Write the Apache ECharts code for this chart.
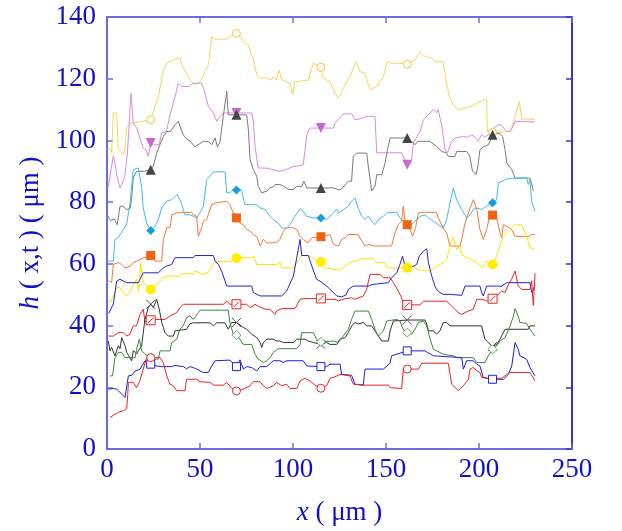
<!DOCTYPE html>
<html><head><meta charset="utf-8">
<script src="https://cdn.jsdelivr.net/npm/echarts@6/dist/echarts.min.js"></script>
<style>html,body{margin:0;padding:0;background:#fff}#c{width:622px;height:531px}</style>
</head><body><div id="c"></div>
<script>
// ---- tick labels / axes ----
const xTicks = [0, 50, 100, 150, 200, 250];
const yTicks = [0, 20, 40, 60, 80, 100, 120, 140];
const markerX = [23.5, 69.6, 115, 161.4, 207.3];

// ---- line profiles h(x,t) : [x, h] ----
const goldLine = [[1.2,97.6],[2.5,96],[3.4,108.9],[5.2,108.9],[6,97],[8.8,95.4],[9.7,97],[10.5,104],[12.4,105.6],[18,106],[23.5,106.7],[25,109.5],[27.6,114.2],[30.3,122.8],[32.1,125],[37.5,126.6],[39.2,126.6],[40.2,124.5],[44.6,119.6],[47.3,118],[50,119],[52.7,122.3],[54.5,124.5],[56.3,133.6],[58.1,132.8],[64.3,132.8],[67,134.2],[69.7,134.7],[71,134.2],[73.3,132],[76,130.9],[78.7,126.1],[80.5,121.3],[82.3,120.2],[86,120.2],[88,119.6],[89.4,120.7],[91,119.6],[92.6,122.8],[93.9,119.6],[96.5,119],[98.4,118.5],[99.8,114.8],[101,119],[108.2,119.6],[110.9,125],[114.9,123.7],[116.3,120.2],[119.9,119],[122.6,115.3],[124.4,113.7],[127,116.9],[130.6,120.7],[133.9,125.5],[136,122.3],[138.7,121.8],[141.4,116.4],[145,117.5],[148.6,120.7],[150.7,125.5],[153,125],[157.5,125],[161.1,124.7],[165.6,126.1],[168.3,128.8],[171,127.2],[174.6,126.6],[176.3,125.5],[180.8,125.5],[182.3,119.6],[184,114.2],[186.2,111.5],[188.9,109.9],[192,110.4],[196,111],[198.8,112.1],[204.1,113.4],[204.5,102.9],[207.3,102.6],[211.3,102.6],[217,103],[219.4,107.8],[221.7,112.6],[222.9,106.9],[230.1,106.9]];
const violetLine = [[0.7,85],[2,90],[3.4,95],[4.5,92],[5.5,88],[7,84.6],[9.5,88],[11,96],[12.9,115.3],[14.1,105.6],[16,104],[17.7,100.8],[19.5,97.5],[21,97],[22.2,94.8],[23.5,99.2],[24.9,98.6],[28,98.6],[29.4,102.4],[32,103],[33.9,108.3],[36.6,114.2],[38.3,118.5],[40.2,117.5],[44,117.5],[46.1,118.5],[50.9,118.5],[52.7,115.3],[54.5,111],[57.2,108.9],[59,106.2],[60.5,107.5],[62.5,108.9],[69.7,108.9],[77.8,108.9],[78.7,106],[79.6,98],[81.3,91.1],[86,91],[93,90],[96,90.5],[100,91.5],[105.5,92.1],[106.5,97],[107.4,101.8],[109.1,104],[114.5,104],[121.7,104],[122.6,105.6],[127,108.6],[131.6,108.6],[133.3,106.7],[136,107],[139.6,107.8],[144.1,107.8],[145,96],[151.3,96],[158.4,96],[161.5,92.1],[163,92.5],[163.8,93.8],[164.7,99.2],[168.3,102.9],[170.1,106.7],[173.7,108.9],[175.5,110],[177,109],[178,110],[179.9,105.1],[181.7,97],[183,96],[185.3,99.7],[187.1,100.8],[191.6,101.3],[194,101],[195,100.5],[196,101.8],[198,101],[199.6,99.7],[201.4,101.8],[203,101],[205.5,102],[207.7,104],[210.4,105.1],[212,105],[214.9,102.9],[217,103],[219.4,106.2],[230.1,106]];
const greyLine = [[0.5,75.5],[2,74],[4,74.5],[5.5,72.7],[6.5,73],[7,78.7],[8.5,78.7],[10.6,77.6],[12.5,78],[13.3,81.9],[14.1,87.8],[15.9,90],[20,90],[23.5,90.5],[24.9,91.6],[26.7,95.9],[28.5,98.6],[30.3,101.3],[32.1,102.9],[34,102.9],[36.6,105.1],[38.3,106.2],[39.2,105.6],[41,101.8],[42.8,100.5],[44.6,99.8],[47.3,97.9],[49,98.6],[51.8,99.7],[54.5,99.7],[56.3,98.6],[58.1,100.8],[59.4,97.9],[60.8,99.7],[62.5,107.8],[64.4,115.9],[65.2,108.3],[69.7,108.3],[75.1,108.3],[76,103.5],[76.9,93.8],[78.7,90.5],[80.5,88.4],[81.3,85.1],[83.2,83],[85.9,83.6],[87.6,84.6],[89.4,85],[90.3,85.7],[93,85.7],[94.8,85.2],[97.5,84.1],[100.2,84.1],[102,85.1],[104.7,85.1],[105.9,86.8],[107.4,84.6],[114.9,84.6],[121.7,84.6],[125.3,83.9],[127,84.9],[129.7,86.8],[131.5,86.8],[132.4,94.8],[134.2,95.9],[139.6,95.9],[140.5,91.6],[142.3,83.6],[144.1,85.1],[145,88.9],[147.8,88.9],[149.5,92.7],[150.8,97],[152.2,100.8],[157.5,100.8],[161.5,100.8],[163.8,99.7],[165.6,98.6],[167,99.7],[169.2,99.7],[173.5,99.7],[177.2,98.1],[179.9,96.4],[182.5,96],[183.5,94.8],[187,94.8],[188,96.4],[193.4,96.4],[195,95],[196.5,90],[198.5,89],[199.5,92],[200.5,97],[202.3,97.9],[205,98.6],[206.8,100.8],[208.6,102.2],[211.3,102.2],[212.7,101.3],[214,97],[214.9,92.7],[217.6,90.5],[219.4,87.8],[227.4,87.8],[228.3,86],[229.2,83.6]];
const skyLine = [[0.7,60.9],[3.4,60.9],[4.3,67.9],[6,68.5],[8.8,71.1],[10.6,73],[12.4,79.8],[14.1,90.5],[16.8,91.1],[17.7,90.5],[18.6,85.1],[19.5,78.1],[21.3,73.2],[23.5,70.8],[25.8,72.2],[27.6,74.5],[29.4,78.1],[32.1,80.3],[34.8,80.8],[36.6,81.9],[37.8,82.4],[39.2,80.8],[40.2,79.2],[41.9,75.9],[44.6,75.9],[46.4,75.4],[48.2,74.9],[50,76.5],[51.8,78.7],[53.6,87.3],[55.4,88.4],[57.2,89.8],[63.4,89.8],[64.4,83],[66.1,83],[67.5,83.9],[69.7,83.9],[72.3,83.9],[73.7,80.3],[74.2,79.2],[80.5,79.2],[82.3,78.1],[85,77.6],[87.6,75.4],[89.4,74.4],[92.1,73.2],[93.9,71.6],[96.6,71.6],[98.4,72.7],[101,75.4],[103.8,77.8],[105.6,77],[107.4,75.4],[110.9,74.9],[114.9,74.9],[118.1,74.4],[121.7,76.5],[123.5,77.8],[124.4,76.5],[127,77.5],[129.7,78.7],[131.5,80.3],[133.3,81.4],[135.1,78],[136.9,75.4],[138.7,74.4],[140.5,75.4],[142.3,73.8],[144.1,72.7],[145.9,74.4],[148.6,75.4],[150.4,76.5],[155.8,76.7],[157.5,74.9],[161.5,72.7],[163.8,72.7],[166.5,74.4],[168.3,75.4],[171,75.9],[172.8,74.9],[175.5,73.8],[178.1,72.7],[180.8,71.6],[182.6,74.4],[184.8,80.8],[186.2,84.6],[188,80.8],[190.7,77.6],[193.4,74.9],[195.2,75.9],[196.9,77.6],[198.8,78.1],[201.4,77.6],[204.1,78.7],[207.3,79.8],[209.5,80.8],[210.4,86.2],[211.3,86.8],[214.9,87.5],[219.4,87.8],[225.6,87.8],[226.5,85.7],[227.4,87.3],[228.3,80.3],[230.1,77]];
const orangeLine = [[0.7,54.5],[2.5,54],[3.4,59.8],[6.1,60.4],[7.9,59.8],[9.7,58.7],[12.4,59.2],[14.1,60.4],[15.9,60.9],[17.7,61.4],[19.5,61.9],[23.5,62.7],[25.8,60.9],[29.4,60.9],[30.3,67.9],[32.1,71.7],[33.9,71.7],[34.8,75.9],[37.5,76.5],[40.2,76.7],[45.5,76.7],[46.4,75.9],[48.2,75.4],[49.1,68.9],[50.9,71.7],[51.8,73.8],[53.6,74.4],[56.3,79.2],[59,79.8],[64.4,80.3],[66.1,79.2],[67.9,76.5],[69.7,74.9],[71.5,73.2],[73.3,72.7],[75.1,71.1],[76.9,70.6],[78.7,69.5],[80.5,68.9],[82.3,65.8],[84.1,68],[85.9,66.8],[89.4,66.8],[91.2,67],[93,67.9],[94.8,70.6],[96.6,71.7],[100.2,71.7],[102,71.1],[103.8,68.9],[105.6,67.9],[108.2,66.8],[110.1,68.4],[114.9,68.8],[119.9,69.5],[121.7,66.3],[124.4,65.8],[126.1,67.9],[128,68.4],[129.7,69.5],[135.1,69.5],[136.9,67.4],[138.7,65.8],[140.5,66.3],[143.2,65.8],[153,65.8],[154.8,70],[156.6,72.7],[158.4,73.8],[159.3,78.7],[160.2,73.8],[161.5,72.7],[162.9,71.1],[164.3,68.9],[166.1,72.2],[167.4,76.5],[169.2,76.7],[177.2,76.7],[178.1,74.9],[180.8,71.6],[182.6,70],[184.4,65.8],[189.8,65.8],[190.7,67.9],[192.5,73.2],[195.2,78.1],[197,80.8],[198,80.3],[198.8,77.6],[200.5,71.1],[202.3,67.9],[204.1,71.1],[205.9,75.9],[207.3,75.8],[209.5,74.9],[211.3,70],[212.2,68.4],[213.1,72.7],[214.9,72.2],[217.6,71.1],[219.4,68.9],[226.5,68.9],[228.3,69.5],[230.1,69.5]];
const yellowLine = [[1.6,47.4],[3.4,49.5],[5.2,52.3],[7,52.3],[8.8,50.7],[10.6,49.6],[12.4,50.7],[14.1,53.3],[15.9,55],[17,51],[18.1,60.4],[19.5,53.9],[23.5,51.7],[25.8,52.7],[28.5,54.4],[30.3,55.5],[32.1,56],[39.2,56],[40.2,56.8],[46.4,56.8],[47.3,57.7],[49.1,57.2],[50.9,56.6],[54.5,57.2],[56.3,59.3],[58.1,60.7],[66.1,60.7],[69.7,61.8],[73.3,62],[77.8,62],[79,62.5],[80.5,59.8],[91.2,59.8],[93,60.6],[93.9,58.7],[100.2,58.7],[101.1,59.8],[104.7,62.7],[108.2,62.7],[110.1,62],[112,61.4],[114.9,60.6],[116.3,58.7],[125.3,58],[127,58.7],[130.6,60.4],[137.8,61.7],[143.2,61.7],[145,60.4],[149.5,60.4],[150.4,58.7],[157.5,58.7],[161.5,58.7],[164.7,59.2],[166.5,58.2],[173.7,57.7],[176.3,58.7],[180.8,60.4],[182.6,61.4],[184.4,65.8],[186.2,68.7],[188,64.7],[189.8,65.8],[190.7,63.1],[193.4,62],[196,61.4],[198.8,60.4],[201.9,58.7],[203.7,60.9],[207.3,59.8],[209.5,62.5],[211.3,65.8],[213.1,68.9],[216.7,71.1],[219.4,72.7],[222.9,72.7],[225.6,68.9],[227.4,65.2],[230.1,64.9]];
const blueUpperLine = [[1,44],[3.4,47],[5.2,54.4],[7,55],[10.6,53.9],[16.8,53.9],[17.7,55],[19.5,57.1],[21.3,57.1],[27.6,57.1],[30.3,58.7],[32.1,59.3],[34.8,59.8],[36.6,62],[46.4,62],[47.3,62.7],[57.2,62.7],[58.1,60.9],[59.9,59.8],[61.6,57.7],[64.4,52.8],[77.8,52.8],[78.7,50.7],[82.3,49.6],[93.9,49.6],[96.6,51.2],[100.2,56],[103.8,67.9],[104.7,62.7],[108.2,62.7],[110.1,59.3],[112.7,55],[114.5,54.4],[118.1,52.8],[121.7,50.7],[123.5,49.6],[126.1,49.3],[128.5,49.9],[129.7,51.7],[132.4,52.8],[140.5,52.8],[142.3,53.3],[151.3,53.9],[153,55.5],[155.8,57.1],[157.5,59.8],[158.9,62.5],[160.2,59.3],[164,59],[166.5,59.8],[167.9,62.5],[170.1,64.1],[171.9,64.9],[172.8,60.4],[174.6,56],[176.3,52.8],[177.2,51.7],[179,50.7],[180.8,50.1],[184.4,50.1],[190.7,49.8],[192.5,52.8],[200.5,52.8],[201.4,50.7],[202.3,49.6],[204.1,52.8],[209.5,52.8],[210.4,53.3],[212.2,52.8],[213.1,53.3],[214.9,53.9],[225.6,53.9],[227.4,53.9],[228.3,50.7],[229.2,51.5],[230.1,53.3]];
const redUpperLine = [[0.7,36.6],[3.4,36.6],[6.1,37.7],[8.8,37.7],[10.6,36.6],[12.4,37.2],[14.1,39.9],[15.9,39.9],[17.7,43.6],[19.5,45.3],[20.4,41.2],[21.3,41.5],[23.5,41.7],[25.8,42],[31.2,42],[33.9,43.1],[37.5,44.2],[39.2,45.8],[41,46.9],[62.5,46.9],[64.4,47.9],[66.1,46.9],[69.7,46.9],[75.1,46.9],[76.9,45.8],[79.6,46.9],[81.3,46.3],[84.9,45.3],[87.6,45.3],[90.3,43.6],[91.2,44.7],[93.9,45.5],[101.1,45.5],[103.8,48.5],[105.6,48.7],[114.9,48.8],[118.1,48.5],[122.6,48.5],[124.4,48],[128,48.7],[131.6,49],[133.3,48.5],[137.8,49.6],[139.6,51.7],[141.4,56.6],[146.8,56.6],[148.6,55.5],[152.2,55.5],[154,53.9],[156.6,51.2],[158.4,49],[159.3,47.2],[161.5,46.7],[168.3,46.7],[170.1,47.9],[182.6,47.9],[185.3,46.3],[188.9,44.2],[190.7,43.6],[192.5,44.2],[194.3,44.7],[196.9,45.3],[198.8,48.5],[202.3,48.5],[204.1,47.9],[207.3,48.7],[209.5,49.6],[212.2,51.2],[214,50.7],[215.8,53.3],[217.5,55],[219.4,57.7],[221,53],[222.9,51.7],[227.4,51.7],[228.3,54.5],[229.2,46.5],[230.1,57]];
const blackLine = [[0.7,35],[1.6,31.8],[2.5,32.9],[4.3,30.2],[6.1,33.5],[7,32.5],[7.9,36.1],[9.7,33.5],[10.6,31.3],[13.3,28.6],[14.1,31.9],[15.9,30.8],[16.8,31.8],[18.6,33.4],[20.4,42],[22.2,45.8],[23.5,46.9],[24.9,45.8],[26.7,48.5],[28.1,45.3],[29.4,41],[31.2,37.7],[33,36.6],[35.7,36.6],[36.6,38.3],[37.5,38.8],[42.8,38.8],[44.6,40.6],[46.4,40.9],[55.4,40.9],[57.2,39.9],[59,40.9],[63.4,40.9],[65.2,38.8],[67,41],[69.7,41],[73.3,39.4],[75.1,38.8],[77.8,37.2],[80.5,36.1],[82.3,34.5],[83.2,32.9],[84.1,34.5],[85.9,35.6],[89.4,35.6],[91.2,35],[92.9,35],[94.8,34.5],[100.2,34.5],[102,35.6],[106.5,35.6],[108.2,35],[110.9,34.5],[114.9,33.9],[118,34.5],[119.9,33.9],[123.5,33.9],[125.3,35.6],[128,36.1],[129.7,37.7],[131.6,39.9],[133.3,41],[135.1,40.5],[137.8,41],[139.6,39.9],[142.3,39.9],[144.1,38.3],[145.9,36.6],[147.7,35],[151.3,35],[152.2,38.3],[154,41.5],[161.5,41.8],[171,41.8],[171.9,40.5],[172.8,38.3],[175.5,38.3],[177.2,37.2],[179,38.3],[180.8,41],[182.6,41],[184.4,39.9],[201.4,39.9],[203.2,35.6],[205,34.5],[207.3,33.2],[209.5,33.9],[211.3,35.6],[214,38.8],[226.5,38.8],[227.4,39.9],[230.1,39.9]];
const greenLine = [[1.6,23.7],[3,23.7],[4.3,29.6],[6.1,31.3],[7.9,31.3],[9.7,29.6],[15.1,29.6],[15.9,32.3],[17.4,35.6],[18.6,31.8],[20.4,30.7],[23.5,29.6],[25.8,29.1],[27.6,29.1],[28.5,31.8],[33.9,31.8],[34.8,34.5],[37.5,35.6],[39.2,38.8],[41,39.9],[42.8,42.6],[44.6,43.1],[46.4,42],[49.1,44.2],[50,45],[65.2,45],[66.1,40.9],[67.9,37.2],[69.7,36.9],[71.5,35.6],[73.3,33.9],[77.8,33.9],[79.6,30.7],[81.3,29.1],[84.1,28],[85.9,28.6],[87.6,29.6],[89.4,31.3],[92.1,32.5],[102,32.5],[103.8,33.9],[104.7,37.7],[110.9,37.7],[112.7,35.6],[114.9,34.7],[121.7,35],[124.4,34.5],[127,36.6],[129.7,38.8],[131.5,42],[133.3,44.7],[140.5,44.7],[142.3,42],[144.1,38.8],[145.9,36.6],[148.6,38.3],[150.4,41.5],[155.8,42],[157.5,41.5],[158.4,39.9],[159.7,38.3],[161.5,37.7],[163.8,37.2],[165.6,38.8],[167.4,41],[170.1,41.5],[171.9,39.9],[173.7,35.6],[175.5,32.3],[177.2,31.8],[180.8,30.7],[186.2,30.2],[188,29.6],[197,29.6],[198.8,28],[203.2,28],[205,30.2],[207.3,32.3],[209.5,33.4],[211.3,35],[214,36.1],[216.7,39.9],[218.5,43],[219.4,45.5],[221.1,43],[222,41],[225.6,40.7],[227.4,38.8],[230.1,36.6]];
const blueLowerLine = [[0.7,19.4],[3.4,19.6],[5.2,19.4],[7.9,17.8],[9.7,16.7],[11.5,23.7],[13.3,23.9],[15.1,25.3],[17.7,25.8],[18.6,26.4],[20.4,28.6],[23.5,27.5],[26.7,26.9],[29.4,26.7],[34.8,26.7],[36.6,27.1],[41,26.7],[42.8,26],[44.6,26.7],[46.4,26.4],[48.2,25.9],[50,25.3],[51.8,24.8],[54.5,24.8],[56.3,26.9],[58.1,28.6],[66.1,28.8],[69.7,26.7],[71.5,28.9],[73.3,25.9],[75.1,26.7],[77.8,26.4],[80.5,25.3],[82.3,26.7],[85.9,26.7],[89.4,28.6],[93,28.6],[94.8,28],[96.6,28.6],[105.5,28.6],[107.4,26.9],[114.9,26.7],[118.1,26.7],[119.9,27.5],[125.3,27.5],[126.1,24.2],[131.5,23.9],[133.3,21],[137.8,20.7],[138.7,25.9],[148.6,25.9],[150.4,26.8],[152.2,28],[153,30.2],[161.5,31.8],[171,31.8],[172.8,31.1],[175.5,30.2],[190.7,29.6],[191.6,25.9],[193.4,28.6],[196.9,28.6],[198.8,27.5],[200.5,26.9],[202.3,23.2],[207.3,22.6],[213.1,22.6],[215.8,24.2],[217.6,26.9],[219.4,34.5],[221.1,32.3],[222,30.2],[225.6,29.1],[227.4,26.4],[230.1,23.7]];
const redLowerLine = [[1.6,10.2],[3.4,10.9],[6.1,11.9],[8.8,12.4],[10.6,13],[11.2,18],[11.5,21.6],[14.1,21.6],[15.9,19.9],[17.7,22.1],[19.5,25.9],[21.3,29.6],[23.5,29.6],[28.5,29.6],[30.3,28],[32.1,23.7],[33.9,21],[35.7,20.5],[37.5,18.9],[41.9,18.9],[42.8,22.6],[48.2,22.6],[50,21.8],[55.4,21.6],[57.2,20.7],[62.5,20.7],[64.4,21.6],[67,19.7],[69.7,18.8],[73.3,19.4],[76.9,20.5],[78.7,21.8],[82.3,21.8],[84.1,20.5],[85.9,19.6],[89.4,20.5],[91.2,21.6],[93.9,20.5],[96.6,21],[98.4,19.6],[102,19.6],[103.8,22.1],[106.5,22.9],[109.1,22.1],[111.8,20.7],[114.9,19.7],[118.1,20.5],[119.9,22.9],[122.6,23.4],[125.3,24.2],[130.6,23.7],[132.4,21],[137.8,20.7],[151.3,20.7],[152.2,19.9],[158.4,19.6],[159.3,25.9],[161.5,25.9],[167.4,25.9],[169.2,27.8],[183.5,27.8],[185.3,21],[188.9,18.9],[191.6,20.5],[194.3,22.6],[195.2,25.9],[196.9,26.4],[198.8,25.4],[200.5,24.8],[201.4,23.2],[204.1,22.9],[207.3,22.9],[212.2,22.9],[214.9,24.2],[216.7,24.8],[227.4,24.8],[230.1,22.1]];

// ---- marker values at markerX (null = no visible marker) ----
const goldMarks   = [106.7, 134.7, 123.7, 124.7, 102.6];
const violetMarks = [99.2, 108.9, 104, 92.1, null];
const greyMarks   = [90.5, 108.3, 84.6, 100.8, 101.8];
const skyMarks    = [70.8, 83.9, 74.9, 72.7, 79.8];
const orangeMarks = [62.7, 74.9, 68.8, 72.7, 75.8];
const yellowMarks = [51.7, 61.8, 60.6, 58.7, 59.8];
const redUpperMarks = [41.7, 46.9, 48.8, 46.7, 48.7];
const blackMarks  = [46.9, 41, 33.9, 41.8, 33.2];
const greenMarks  = [29.6, 36.9, 34.7, 37.7, 32.3];
const blueLowerMarks = [27.5, 26.7, 26.7, 31.8, 22.6];
const redLowerMarks  = [29.6, 18.8, 19.7, 25.9, null];

const AXC = '#6c6cdc';
const AXR = '#3434d4';
const TXC = '#1010c8';
const FONT = 'Liberation Serif';

function line(data, color, z) {
  return {type:'line', data, showSymbol:false, symbol:'none', silent:true, z: z||2,
          lineStyle:{color, width:1}, animation:false};
}
function marks(vals, symbol, size, fill, border, bw, rotate) {
  const pts = [];
  markerX.forEach((x,i)=>{ if (vals[i] !== null) pts.push([x, vals[i]]); });
  return {type:'scatter', data: pts, symbol, symbolSize:size,
          symbolRotate: rotate||0, silent:true, z:5, animation:false,
          itemStyle:{color:fill, borderColor:border, borderWidth:bw, opacity:1}};
}

const chart = echarts.init(document.getElementById('c'), null, {renderer:'canvas'});
const xAxisBase = {type:'value', min:0, max:250, interval:50};
const yAxisBase = {type:'value', min:0, max:140, interval:20};
chart.setOption({
  backgroundColor:'#fff',
  animation:false,
  grid:{left:107, right:50, top:17, bottom:81},
  xAxis:[
    Object.assign({}, xAxisBase, {position:'bottom',
      axisLine:{show:true, onZero:false, lineStyle:{color:AXC, width:2}},
      axisTick:{show:true, inside:true, length:6, lineStyle:{color:AXC, width:1.5}},
      splitLine:{show:false},
      axisLabel:{color:TXC, fontFamily:FONT, fontSize:27, margin:7,
        formatter:v=>xTicks.includes(v)?String(v):''},
      name:'{i|x} ( μm )', nameLocation:'middle', nameGap:50,
      nameTextStyle:{color:TXC, fontFamily:FONT, fontSize:27,
        rich:{i:{fontStyle:'italic', fontFamily:FONT, fontSize:27, color:TXC}}}}),
    Object.assign({}, xAxisBase, {position:'top',
      axisLine:{show:true, onZero:false, lineStyle:{color:AXC, width:2}},
      axisTick:{show:true, inside:true, length:6, lineStyle:{color:AXC, width:1.5}},
      axisLabel:{show:false}, splitLine:{show:false}})
  ],
  yAxis:[
    Object.assign({}, yAxisBase, {position:'left',
      axisLine:{show:true, onZero:false, lineStyle:{color:AXC, width:2}},
      axisTick:{show:true, inside:true, length:6, lineStyle:{color:AXC, width:1.5}},
      splitLine:{show:false},
      axisLabel:{color:TXC, fontFamily:FONT, fontSize:27, margin:11,
        formatter:v=>yTicks.includes(v)?String(v):''},
      name:'{i|h} ( x,t ) ( μm )', nameLocation:'middle', nameGap:46, nameRotate:90,
      nameTextStyle:{color:TXC, fontFamily:FONT, fontSize:27,
        rich:{i:{fontStyle:'italic', fontFamily:FONT, fontSize:27, color:TXC}}}}),
    Object.assign({}, yAxisBase, {position:'right',
      axisLine:{show:true, onZero:false, lineStyle:{color:AXR, width:2}},
      axisTick:{show:true, inside:true, length:6, lineStyle:{color:AXR, width:1.5}},
      axisLabel:{show:false}, splitLine:{show:false}})
  ],
  series:[
    line(goldLine, '#f9d55a'),
    line(violetLine, '#dd8ade'),
    line(greyLine, '#7a7a7a'),
    line(skyLine, '#3cbcec'),
    line(orangeLine, '#f07a36'),
    line(yellowLine, '#f6e600'),
    line(blueUpperLine, '#2424d6'),
    line(redUpperLine, '#e82424'),
    line(blackLine, '#333333'),
    line(greenLine, '#3a8a3a'),
    line(blueLowerLine, '#1c1cd8'),
    line(redLowerLine, '#e82424'),
    marks(goldMarks, 'circle', 8, '#ffffff', '#f2c43c', 1),
    marks(violetMarks, 'triangle', 10, '#c968c9', '#c968c9', 0, 180),
    marks(greyMarks, 'triangle', 10, '#444444', '#444444', 0),
    marks(skyMarks, 'diamond', 9, '#1a9be0', '#1a9be0', 0),
    marks(orangeMarks, 'rect', 9, '#f06414', '#f06414', 0),
    marks(yellowMarks, 'circle', 10, '#ffee00', '#ffee00', 0),
    marks(redUpperMarks, 'path://M0,0L10,0L10,10L0,10Z M2,8L8,2', 9, '#ffffff', '#e82424', 1),
    marks(blackMarks, 'path://M0,0L10,10M10,0L0,10', 9, 'rgba(0,0,0,0)', '#555555', 1),
    marks(greenMarks, 'diamond', 9, '#ffffff', '#6aaa6a', 1),
    marks(blueLowerMarks, 'rect', 8, '#ffffff', '#1c1cd8', 1),
    marks(redLowerMarks, 'circle', 8, '#ffffff', '#e82424', 1)
  ]
});
</script></body></html>
